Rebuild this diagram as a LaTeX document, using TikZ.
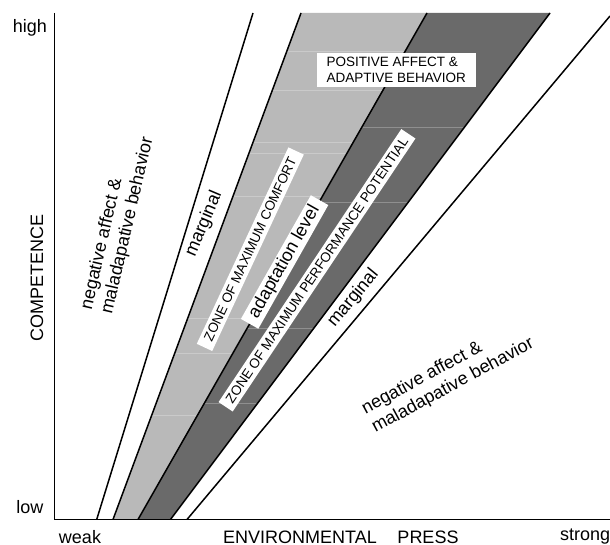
\documentclass[tikz,border=0pt]{standalone}
\usepackage{fontspec}
\setmainfont{Liberation Sans}
\usetikzlibrary{positioning}

\definecolor{lightzone}{HTML}{B9B9B9}
\definecolor{darkzone}{HTML}{6A6A6A}

\tikzset{
  axisline/.style = {line width=1.8pt},
  bound/.style = {line width=1.5pt},
  meshline/.style = {white, opacity=0.25, line width=0.6pt},
  biglabel/.style = {font=\fontsize{18}{21}\selectfont},
  ticklabel/.style = {biglabel, inner sep=1pt},
  zonebox/.style = {fill=white, inner xsep=8pt, inner ysep=3pt, text height=10pt, text depth=1pt,
                    font=\fontsize{13.5}{16}\selectfont}
}

\begin{document}
\begin{tikzpicture}[x=1pt, y=1pt]
  \useasboundingbox (0,0) rectangle (610,545);
  % axes and band end points
  \coordinate (o) at (54.5,25.5);
  \coordinate (ytop) at (54.5,532);
  \coordinate (xend) at (610,25.5);
  \coordinate (b1) at (96.7,25.5);  \coordinate (t1) at (253,532);
  \coordinate (b2) at (113,25.5);   \coordinate (t2) at (301,532);
  \coordinate (b3) at (138,25.5);   \coordinate (t3) at (427,532);
  \coordinate (b4) at (170.5,25.5); \coordinate (t4) at (550,532);
  \coordinate (b5) at (187,25.5);   \coordinate (t5) at (610,529);

  \fill[lightzone] (b2) -- (t2) -- (t3) -- (b3) -- cycle;
  \fill[darkzone] (b3) -- (t3) -- (t4) -- (b4) -- cycle;
  \begin{scope}
    \clip (b2) -- (t2) -- (t3) -- (b3) -- cycle;
    \foreach \y in {494,455,403,392,349,227,192,130}
      \draw[meshline] (100,\y) -- (450,\y);
  \end{scope}
  \begin{scope}
    \clip (b3) -- (t3) -- (t4) -- (b4) -- cycle;
    \foreach \y in {418,343,217,142}
      \draw[meshline] (130,\y) -- (560,\y);
  \end{scope}

  \draw[bound] (b1) -- (t1);
  \draw[bound] (b2) -- (t2);
  \draw[bound] (b3) -- (t3);
  \draw[bound] (b4) -- (t4);
  \draw[bound] (b5) -- (t5);
  \draw[axisline] (ytop) -- (o) -- (xend);

  \node (high) [ticklabel] at (30,517) {high};
  \node (low) [ticklabel] at (30,38.3) {low};
  \node (weak) [ticklabel] at (80,8) {weak};
  \node (env) [ticklabel] at (300,8) {ENVIRONMENTAL};
  \node (press) [ticklabel] at (428,8) {PRESS};
  \node (strong) [ticklabel, anchor=west] at (559,8) {strong};
  \node (comp) [biglabel, rotate=90] at (37,267) {COMPETENCE};

  \node (negup) [biglabel, rotate=77, align=left] at (117.6,321.7) {negative affect \&\\maladapative behavior};
  \node (neglow) [biglabel, rotate=28.4, align=left] at (448,168.5) {negative affect \&\\maladapative behavior};
  \node (margup) [biglabel, rotate=67] at (204,321) {marginal};
  \node (marglow) [biglabel, rotate=50.5] at (353.3,246.7) {marginal};

  \node (comfort) [zonebox, rotate=65] at (250.3,295.8) {ZONE OF MAXIMUM COMFORT};
  \node (adapt) [zonebox, rotate=60.5, font=\fontsize{18}{21}\selectfont, text height=13pt, text depth=4pt, inner ysep=1.5pt] at (284.6,283) {adaptation level};
  \node (perf) [zonebox, rotate=56.2, inner xsep=6pt] at (317,274.7) {ZONE OF MAXIMUM PERFORMANCE POTENTIAL};
  \node (pos) [zonebox, align=left, inner xsep=10pt, inner ysep=4pt, text height=, text depth=] at (396.3,474.8) {POSITIVE AFFECT \&\\ADAPTIVE BEHAVIOR};
\end{tikzpicture}
\end{document}
